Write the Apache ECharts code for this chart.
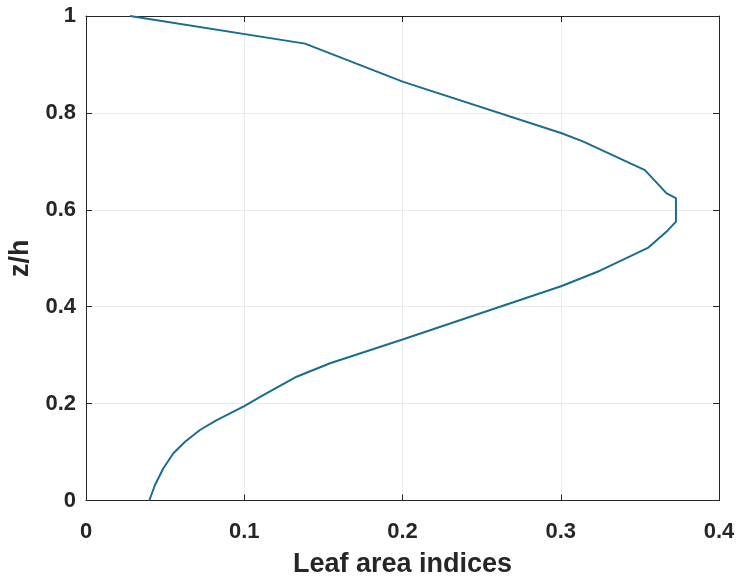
<!DOCTYPE html>
<html>
<head>
<meta charset="utf-8">
<script src="https://cdn.jsdelivr.net/npm/echarts@6/dist/echarts.min.js"></script>
<style>
html,body{margin:0;padding:0;background:#fff;}
#chart{width:737px;height:579px;}
</style>
</head>
<body>
<div id="chart"></div>
<script>
// Relative height z/h
var zLevels = [0, 0.032, 0.0665, 0.0974, 0.1214, 0.1455, 0.166, 0.18, 0.195, 0.2177, 0.2555, 0.2832, 0.2968, 0.3327, 0.4427, 0.4743, 0.522, 0.555, 0.5755, 0.624, 0.634, 0.682, 0.7406, 0.758, 0.864, 0.943, 1.0];
// Leaf area indices
var laiValues = [0.040, 0.0436, 0.0489, 0.0552, 0.0626, 0.072, 0.0826, 0.091, 0.1, 0.112, 0.1331, 0.1542, 0.1668, 0.2005, 0.3006, 0.3248, 0.3554, 0.3669, 0.3728, 0.3728, 0.3669, 0.3532, 0.3143, 0.3006, 0.2005, 0.1384, 0.0278];
var xTicks = [0, 0.1, 0.2, 0.3, 0.4];
var yTicks = [0, 0.2, 0.4, 0.6, 0.8, 1];

var pts = zLevels.map(function (z, i) { return [laiValues[i], z]; });

var font = '"Liberation Sans", Arial, sans-serif';
var axisCol = '#262626';
var chart = echarts.init(document.getElementById('chart'), null, {renderer: 'canvas'});
var lblX = {fontFamily: font, fontWeight: 'bold', fontSize: 22, color: axisCol, margin: 20,
  formatter: function (v) { return String(+v.toFixed(1)); }};
var lblY = {fontFamily: font, fontWeight: 'bold', fontSize: 22, color: axisCol, margin: 10,
  padding: [4, 0, 0, 0],
  formatter: function (v) { return String(+v.toFixed(1)); }};
chart.setOption({
  animation: false,
  backgroundColor: '#ffffff',
  grid: {left: 86, right: 18, top: 16, bottom: 78.5, show: false, containLabel: false, outerBoundsMode: 'none'},
  xAxis: [{
    type: 'value', min: xTicks[0], max: xTicks[xTicks.length - 1], interval: 0.1,
    position: 'bottom',
    name: 'Leaf area indices', nameLocation: 'middle', nameGap: 51,
    nameTextStyle: {fontFamily: font, fontWeight: 'bold', fontSize: 27, color: axisCol},
    axisLine: {show: true, onZero: false, lineStyle: {color: axisCol, width: 1}},
    axisTick: {show: true, inside: true, length: 6, lineStyle: {color: axisCol}},
    axisLabel: lblX,
    splitLine: {show: true, lineStyle: {color: '#ebebeb', width: 1}}
  }, {
    type: 'value', min: xTicks[0], max: xTicks[xTicks.length - 1], interval: 0.1,
    position: 'top',
    axisLine: {show: true, onZero: false, lineStyle: {color: axisCol, width: 1}},
    axisTick: {show: true, inside: true, length: 6, lineStyle: {color: axisCol}},
    axisLabel: {show: false}, splitLine: {show: false}
  }],
  yAxis: [{
    type: 'value', min: yTicks[0], max: yTicks[yTicks.length - 1], interval: 0.2,
    position: 'left',
    name: 'z/h', nameLocation: 'middle', nameGap: 43, nameRotate: 90,
    nameTextStyle: {fontFamily: font, fontWeight: 'bold', fontSize: 27, color: axisCol},
    axisLine: {show: true, onZero: false, lineStyle: {color: axisCol, width: 1}},
    axisTick: {show: true, inside: true, length: 6, lineStyle: {color: axisCol}},
    axisLabel: lblY,
    splitLine: {show: true, lineStyle: {color: '#ebebeb', width: 1}}
  }, {
    type: 'value', min: yTicks[0], max: yTicks[yTicks.length - 1], interval: 0.2,
    position: 'right',
    axisLine: {show: true, onZero: false, lineStyle: {color: axisCol, width: 1}},
    axisTick: {show: true, inside: true, length: 6, lineStyle: {color: axisCol}},
    axisLabel: {show: false}, splitLine: {show: false}
  }],
  series: [{
    type: 'line', xAxisIndex: 0, yAxisIndex: 0,
    data: pts, showSymbol: false, smooth: false,
    lineStyle: {color: '#1a6d8e', width: 2},
    itemStyle: {color: '#1a6d8e'}
  }]
});
</script>
</body>
</html>
